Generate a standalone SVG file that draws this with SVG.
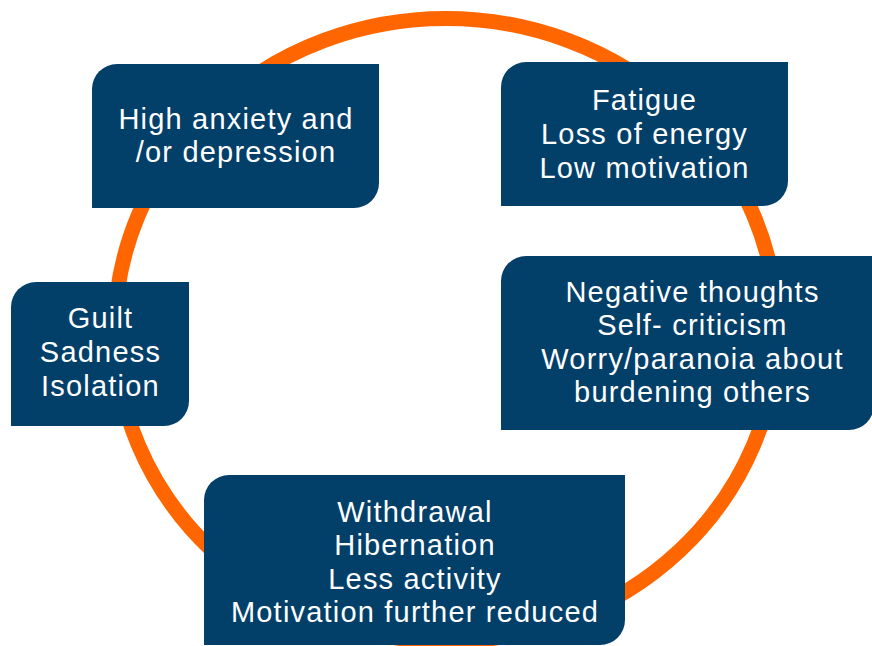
<svg xmlns="http://www.w3.org/2000/svg" width="872" height="646" viewBox="0 0 872 646">
<style>
.box{fill:#023f69;}
.t{fill:#ffffff;font-family:"Liberation Sans",Arial,sans-serif;font-size:29px;letter-spacing:1.2px;text-anchor:middle;}
</style>
<rect width="872" height="646" fill="#ffffff"/>
<g id="connectors">
<ellipse cx="446" cy="330" rx="331" ry="311.5" fill="none" stroke="#ff6600" stroke-width="15"/>
</g>
<g id="node1">
<path class="box" d="M117 64 H379 V183 A25 25 0 0 1 354 208 H92 V89 A25 25 0 0 1 117 64 Z"/>
<text class="t" x="236" y="129"><tspan x="236">High anxiety and</tspan><tspan x="236" dy="33">/or depression</tspan></text>
</g>
<g id="node2">
<path class="box" d="M526 62 H788 V181 A25 25 0 0 1 763 206 H501 V87 A25 25 0 0 1 526 62 Z"/>
<text class="t" x="644.5" y="110"><tspan x="644.5">Fatigue</tspan><tspan x="644.5" dy="34">Loss of energy</tspan><tspan x="644.5" dy="34">Low motivation</tspan></text>
</g>
<g id="node3">
<path class="box" d="M36 282 H189 V401 A25 25 0 0 1 164 426 H11 V307 A25 25 0 0 1 36 282 Z"/>
<text class="t" x="100.5" y="328"><tspan x="100.5">Guilt</tspan><tspan x="100.5" dy="34">Sadness</tspan><tspan x="100.5" dy="34">Isolation</tspan></text>
</g>
<g id="node4">
<path class="box" d="M526 256 H874 V405 A25 25 0 0 1 849 430 H501 V281 A25 25 0 0 1 526 256 Z"/>
<text class="t" x="692.5" y="302"><tspan x="692.5">Negative thoughts</tspan><tspan x="692.5" dy="33.3">Self- criticism</tspan><tspan x="692.5" dy="33.3">Worry/paranoia about</tspan><tspan x="692.5" dy="33.3">burdening others</tspan></text>
</g>
<g id="node5">
<path class="box" d="M229 475 H625 V620 A25 25 0 0 1 600 645 H204 V500 A25 25 0 0 1 229 475 Z"/>
<text class="t" x="415" y="522"><tspan x="415">Withdrawal</tspan><tspan x="415" dy="33.3">Hibernation</tspan><tspan x="415" dy="33.3">Less activity</tspan><tspan x="415" dy="33.3">Motivation further reduced</tspan></text>
</g>
</svg>
